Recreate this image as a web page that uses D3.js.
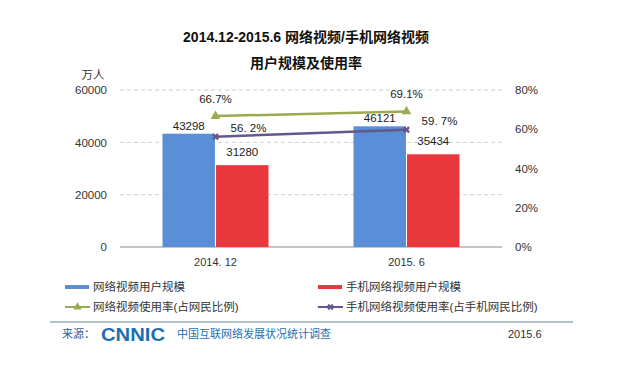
<!DOCTYPE html>
<html><head><meta charset="utf-8">
<script src="https://cdn.jsdelivr.net/npm/d3@7/dist/d3.min.js"></script>
<style>body{margin:0;background:#fff}svg{display:block}text{font-family:"Liberation Sans","Noto Sans CJK SC",sans-serif}</style>
</head><body><svg id="c" width="636" height="367"></svg>
<script>
const categories = ["2014. 12", "2015. 6"];
const netUsers = [43298, 46121];
const mobileUsers = [31280, 35434];
const netRate = [66.7, 69.1];
const mobileRate = [56.2, 59.7];
const leftTicks = [0, 20000, 40000, 60000];
const rightTicks = [0, 20, 40, 60, 80];
const seriesNames = ["网络视频用户规模", "手机网络视频用户规模", "网络视频使用率(占网民比例)", "手机网络视频使用率(占手机网民比例)"];

const svg = d3.select("#c");
const L = 120, R = 502, T = 90, B = 247;
const x = d3.scaleBand().domain(categories).range([L, R]);
const x1 = d3.scaleBand().domain([0,1]).range([0, 106]).paddingInner(0.02);
const y = d3.scaleLinear().domain([0, 60000]).range([B, T]);
const y2 = d3.scaleLinear().domain([0, 80]).range([B, T]);
const cx = c => x(c) + x.bandwidth()/2;

const blue = "#5a8ed6", red = "#e8383d", green = "#9aaa50", purple = "#64578e";

// title
svg.append("text").attr("x", 306).attr("y", 42).attr("text-anchor","middle").attr("font-size",14).attr("font-weight","bold").attr("fill","#111").text("2014.12-2015.6 网络视频/手机网络视频");
svg.append("text").attr("x", 306).attr("y", 68).attr("text-anchor","middle").attr("font-size",14).attr("font-weight","bold").attr("fill","#111").text("用户规模及使用率");

// gridlines
svg.append("g").selectAll("line").data(leftTicks.filter(d=>d>0)).join("line")
  .attr("x1", L).attr("x2", R).attr("y1", d=>y(d)).attr("y2", d=>y(d))
  .attr("stroke","#cfcfcf").attr("stroke-dasharray","4,3");
svg.append("line").attr("x1",L).attr("x2",R).attr("y1",B).attr("y2",B).attr("stroke","#8a8a8a");

// left axis
const ga = svg.append("g").attr("transform",`translate(${L-10},0)`).call(d3.axisLeft(y).tickValues(leftTicks).tickSize(0).tickFormat(d3.format("d")));
ga.select(".domain").remove();
ga.selectAll("text").attr("font-size",11.5).attr("fill","#333").attr("font-family","Liberation Sans, sans-serif");
svg.append("text").attr("x",93).attr("y",79).attr("text-anchor","middle").attr("font-size",11.5).attr("fill","#333").text("万人");

// right axis
const gb = svg.append("g").attr("transform",`translate(${R+10},0)`).call(d3.axisRight(y2).tickValues(rightTicks).tickSize(0).tickFormat(d=>d+"%"));
gb.select(".domain").remove();
gb.selectAll("text").attr("font-size",11.5).attr("fill","#333").attr("font-family","Liberation Sans, sans-serif");

// category labels
svg.append("g").selectAll("text").data(categories).join("text")
  .attr("x", d=>cx(d)).attr("y", 266).attr("text-anchor","middle").attr("font-size",11).attr("fill","#333").text(d=>d);

// bars
const off = (x.bandwidth()-106)/2;
const bars = svg.append("g");
bars.selectAll(".b1").data(categories).join("rect")
  .attr("x", (d)=>x(d)+off+x1(0)).attr("width", x1.bandwidth())
  .attr("y", (d,i)=>y(netUsers[i])).attr("height",(d,i)=>B-y(netUsers[i])).attr("fill",blue);
bars.selectAll(".b2").data(categories).join("rect")
  .attr("x", (d)=>x(d)+off+x1(1)).attr("width", x1.bandwidth())
  .attr("y", (d,i)=>y(mobileUsers[i])).attr("height",(d,i)=>B-y(mobileUsers[i])).attr("fill",red);

// bar labels
bars.selectAll(".l1").data(categories).join("text")
  .attr("x",(d)=>x(d)+off+x1(0)+x1.bandwidth()/2).attr("y",(d,i)=>y(netUsers[i])-4)
  .attr("text-anchor","middle").attr("font-size",11.5).attr("fill","#222").text((d,i)=>netUsers[i]);
bars.selectAll(".l2").data(categories).join("text")
  .attr("x",(d)=>x(d)+off+x1(1)+x1.bandwidth()/2).attr("y",(d,i)=>y(mobileUsers[i])-9)
  .attr("text-anchor","middle").attr("font-size",11.5).attr("fill","#222").text((d,i)=>mobileUsers[i]);

// lines
const line = d3.line().x(d=>cx(d[0])).y(d=>y2(d[1]));
const gd = categories.map((c,i)=>[c, netRate[i]]);
const pd = categories.map((c,i)=>[c, mobileRate[i]]);
svg.append("path").attr("d", line(gd)).attr("fill","none").attr("stroke",green).attr("stroke-width",2.5);
svg.append("path").attr("d", line(pd)).attr("fill","none").attr("stroke",purple).attr("stroke-width",2.5);
svg.append("g").selectAll("path").data(gd).join("path")
  .attr("transform", d=>`translate(${cx(d[0])},${y2(d[1])})`)
  .attr("d", d3.symbol(d3.symbolTriangle, 40)()).attr("fill",green);
svg.append("g").selectAll("path").data(pd).join("path")
  .attr("transform", d=>`translate(${cx(d[0])},${y2(d[1])}) rotate(45)`)
  .attr("d", d3.symbol(d3.symbolCross, 30)()).attr("fill",purple);

// line labels
svg.append("g").selectAll("text").data(gd).join("text")
  .attr("x", d=>cx(d[0])).attr("y", d=>y2(d[1])-13).attr("text-anchor","middle")
  .attr("font-size",11.5).attr("fill","#222").text(d=>d[1].toFixed(1)+"%");
svg.append("g").selectAll("text").data(pd).join("text")
  .attr("x", d=>cx(d[0])+33).attr("y", d=>y2(d[1])-5).attr("text-anchor","middle")
  .attr("font-size",11.5).attr("fill","#222").text(d=>d[1].toFixed(1).replace(".",". ")+"%");

// legend
const lg = svg.append("g").attr("font-size",11.5).attr("fill","#333");
const lx = [65, 318], ly = [287, 307];
lg.append("rect").attr("x",lx[0]).attr("y",ly[0]-2).attr("width",24).attr("height",4).attr("fill",blue);
lg.append("rect").attr("x",lx[1]).attr("y",ly[0]-2).attr("width",24).attr("height",4).attr("fill",red);
lg.append("line").attr("x1",lx[0]).attr("x2",lx[0]+25).attr("y1",ly[1]).attr("y2",ly[1]).attr("stroke",green).attr("stroke-width",2);
lg.append("path").attr("transform",`translate(${lx[0]+12.5},${ly[1]})`).attr("d",d3.symbol(d3.symbolTriangle,30)()).attr("fill",green);
lg.append("line").attr("x1",lx[1]).attr("x2",lx[1]+25).attr("y1",ly[1]).attr("y2",ly[1]).attr("stroke",purple).attr("stroke-width",2);
lg.append("path").attr("transform",`translate(${lx[1]+12.5},${ly[1]}) rotate(45)`).attr("d",d3.symbol(d3.symbolCross,25)()).attr("fill",purple);
[[0,0],[1,0],[0,1],[1,1]].forEach(([c,r],i)=>{
  lg.append("text").attr("x",lx[c]+28).attr("y",ly[r]+4).attr("fill","#333").text(seriesNames[i]);
});

// footer
svg.append("line").attr("x1",50).attr("x2",573).attr("y1",322).attr("y2",322).attr("stroke","#6d8290").attr("stroke-width",1);
svg.append("text").attr("x",62).attr("y",338).attr("font-size",11).attr("fill","#1d5f9a").text("来源：");
svg.append("text").attr("x",101).attr("y",341).attr("font-size",19).attr("font-weight","bold").attr("fill","#1d6fb0").attr("textLength",64).attr("lengthAdjust","spacingAndGlyphs").text("CNNIC");
svg.append("text").attr("x",177).attr("y",338).attr("font-size",11).attr("fill","#1d6fb0").text("中国互联网络发展状况统计调查");
svg.append("text").attr("x",508).attr("y",338).attr("font-size",11).attr("fill","#333").text("2015.6");
</script></body></html>
